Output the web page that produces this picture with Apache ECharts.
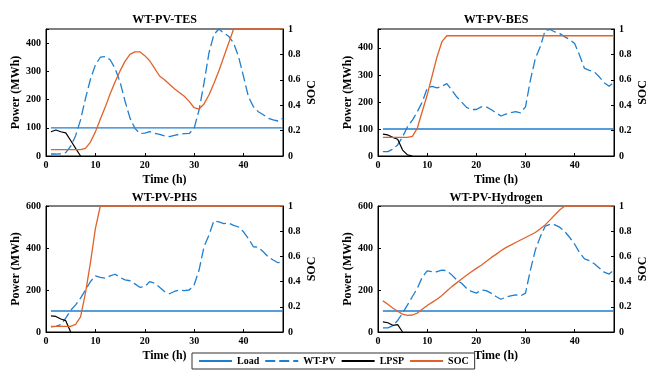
<!DOCTYPE html>
<html>
<head>
<meta charset="utf-8">
<script src="https://cdn.jsdelivr.net/npm/echarts@6/dist/echarts.min.js"></script>
<style>
html,body{margin:0;padding:0;background:#fff;}
#chart{width:650px;height:379px;}
</style>
</head>
<body>
<div id="chart"></div>
<script>
// ---------- data ----------
const hours = [1,2,3,4,5,6,7,8,9,10,11,12,13,14,15,16,17,18,19,20,21,22,23,24,25,26,27,28,29,30,31,32,33,34,35,36,37,38,39,40,41,42,43,44,45,46,47,48];
const loadValues = [100,100,100,100,100,100,100,100,100,100,100,100,100,100,100,100,100,100,100,100,100,100,100,100,100,100,100,100,100,100,100,100,100,100,100,100,100,100,100,100,100,100,100,100,100,100,100,100];

const panelTitles = ['WT-PV-TES', 'WT-PV-BES', 'WT-PV-PHS', 'WT-PV-Hydrogen'];
const seriesNames = ['Load', 'WT-PV', 'LPSP', 'SOC'];

// WT-PV-TES
const tesWtpv = [7,7,8,12,35,72,128,204,272,322,350,352,341,310,262,195,135,98,80,81,86,80,77,71,69,73,77,79,80,98,163,258,365,430,450,436,424,400,352,282,210,175,157,146,134,128,124,134];
const tesLpsp = [86,92,86,82,55,27,0];
const tesSoc = [0.05,0.05,0.05,0.05,0.05,0.05,0.05,0.06,0.11,0.19,0.29,0.385,0.49,0.585,0.67,0.745,0.80,0.82,0.82,0.79,0.75,0.69,0.63,0.60,0.565,0.53,0.50,0.47,0.43,0.38,0.37,0.41,0.48,0.57,0.67,0.78,0.89,1,1,1,1,1,1,1,1,1,1,1];

// WT-PV-BES
const besWtpv = [16,16,25,41,71,108,133,164,200,250,258,252,258,268,244,219,200,180,172,172,182,182,172,160,148,155,160,164,160,182,281,361,404,465,468,459,453,441,431,416,373,324,317,311,293,271,258,274];
const besLpsp = [81,78,69,62,22,4,0];
const besSoc = [0.147,0.147,0.147,0.147,0.147,0.147,0.155,0.22,0.35,0.48,0.63,0.78,0.90,0.947,0.947,0.947,0.947,0.947,0.947,0.947,0.947,0.947,0.947,0.947,0.947,0.947,0.947,0.947,0.947,0.947,0.947,0.947,0.947,0.947,0.947,0.947,0.947,0.947,0.947,0.947,0.947,0.947,0.947,0.947,0.947,0.947,0.947,0.947];

// WT-PV-PHS
const phsWtpv = [25,27,35,66,103,129,161,200,240,267,260,256,267,275,260,248,244,229,213,216,240,232,213,193,182,193,200,197,200,224,295,406,461,529,524,516,519,508,500,477,445,406,403,382,358,343,330,335];
const phsLpsp = [77,74,62,54,0];
const phsSoc = [0.045,0.045,0.045,0.045,0.045,0.06,0.12,0.31,0.55,0.82,1,1,1,1,1,1,1,1,1,1,1,1,1,1,1,1,1,1,1,1,1,1,1,1,1,1,1,1,1,1,1,1,1,1,1,1,1,1];

// WT-PV-Hydrogen
const h2Wtpv = [20,20,30,55,90,129,169,208,261,291,287,287,295,292,272,248,232,208,193,185,200,197,185,169,156,166,172,177,172,185,295,390,453,504,513,510,498,478,450,418,378,348,340,325,305,285,276,295];
const h2Lpsp = [48,44,32,35,0];
const h2Soc = [0.247,0.22,0.19,0.165,0.142,0.132,0.135,0.15,0.18,0.21,0.235,0.26,0.29,0.325,0.36,0.39,0.42,0.45,0.478,0.505,0.53,0.56,0.59,0.616,0.645,0.67,0.69,0.71,0.73,0.75,0.77,0.79,0.82,0.85,0.89,0.93,0.97,1,1,1,1,1,1,1,1,1,1,1];

const powerMax = [450, 470, 600, 600];
const powerStep = [100, 100, 200, 200];
const panelData = [
  [tesWtpv, tesLpsp, tesSoc],
  [besWtpv, besLpsp, besSoc],
  [phsWtpv, phsLpsp, phsSoc],
  [h2Wtpv, h2Lpsp, h2Soc]
];

// ---------- styling ----------
const FONT = '"Liberation Serif", "DejaVu Serif", serif';
const BLUE = '#1f7fcf';
const ORANGE = '#e0622a';
const grids = [
  {left: 46, top: 29, width: 237, height: 127},
  {left: 378, top: 29, width: 236, height: 127},
  {left: 46, top: 206, width: 237, height: 126},
  {left: 378, top: 206, width: 236, height: 126}
];

function pairs(xs, ys) { return ys.map((v, i) => [xs[i], v]); }

const option = {
  animation: false,
  backgroundColor: '#fff',
  textStyle: {fontFamily: FONT, color: '#000'},
  title: panelTitles.map((t, i) => ({
    text: t,
    left: grids[i].left + grids[i].width / 2,
    top: i < 2 ? 14 : 192,
    textAlign: 'center',
    padding: 0,
    textStyle: {fontFamily: FONT, fontWeight: 'bold', fontSize: 12, color: '#000'}
  })),
  legend: {
    data: seriesNames,
    left: 192,
    top: 353,
    orient: 'horizontal',
    itemWidth: 33,
    itemHeight: 12,
    itemGap: 5,
    padding: [3, 6],
    borderColor: '#333',
    borderWidth: 1,
    backgroundColor: '#fff',
    itemStyle: {opacity: 0},
    textStyle: {fontFamily: FONT, fontWeight: 'bold', fontSize: 10, color: '#000'}
  },
  grid: grids.map(g => Object.assign({show: true, borderColor: '#000', borderWidth: 1, backgroundColor: '#fff'}, g)),
  xAxis: grids.map((g, i) => ({
    type: 'value', gridIndex: i, min: 0, max: 48, interval: 10,
    name: 'Time (h)', nameLocation: 'middle', nameGap: 18,
    nameTextStyle: {fontFamily: FONT, fontWeight: 'bold', fontSize: 12, color: '#000'},
    axisLine: {show: true, onZero: false, lineStyle: {color: '#000', width: 1}},
    axisTick: {show: true, inside: true, length: 3, lineStyle: {color: '#000'}},
    axisLabel: {margin: 4, fontFamily: FONT, fontWeight: 'bold', fontSize: 10, color: '#000',
      formatter: v => (v % 10 === 0 ? String(v) : '')},
    splitLine: {show: false}
  })),
  yAxis: [],
  series: []
};

grids.forEach((g, i) => {
  option.yAxis.push({
    type: 'value', gridIndex: i, position: 'left', min: 0, max: powerMax[i], interval: powerStep[i],
    name: 'Power (MWh)', nameLocation: 'middle', nameGap: 23, nameRotate: 90,
    nameTextStyle: {fontFamily: FONT, fontWeight: 'bold', fontSize: 12, color: '#000'},
    axisLine: {show: true, lineStyle: {color: '#000', width: 1}},
    axisTick: {show: true, inside: true, length: 3, lineStyle: {color: '#000'}},
    axisLabel: {margin: 5, fontFamily: FONT, fontWeight: 'bold', fontSize: 10, color: '#000',
      formatter: v => (v % powerStep[i] === 0 ? String(v) : '')},
    splitLine: {show: false}
  });
  option.yAxis.push({
    type: 'value', gridIndex: i, position: 'right', min: 0, max: 1, interval: 0.2,
    name: 'SOC', nameLocation: 'middle', nameGap: 23, nameRotate: 90,
    nameTextStyle: {fontFamily: FONT, fontWeight: 'bold', fontSize: 12, color: '#000'},
    axisLine: {show: true, lineStyle: {color: '#000', width: 1}},
    axisTick: {show: true, inside: true, length: 3, lineStyle: {color: '#000'}},
    axisLabel: {margin: 5, fontFamily: FONT, fontWeight: 'bold', fontSize: 10, color: '#000'},
    splitLine: {show: false}
  });
  const [wtpv, lpsp, soc] = panelData[i];
  const base = {type: 'line', xAxisIndex: i, symbol: 'none', showSymbol: false, clip: false, animation: false};
  option.series.push(Object.assign({}, base, {
    name: 'Load', yAxisIndex: 2 * i, data: pairs(hours, loadValues),
    itemStyle: {color: BLUE}, lineStyle: {color: BLUE, width: 1.3}
  }));
  option.series.push(Object.assign({}, base, {
    name: 'WT-PV', yAxisIndex: 2 * i, data: pairs(hours, wtpv),
    itemStyle: {color: BLUE}, lineStyle: {color: BLUE, width: 1.3, type: [10, 4]}
  }));
  option.series.push(Object.assign({}, base, {
    name: 'LPSP', yAxisIndex: 2 * i, data: pairs(hours, lpsp),
    itemStyle: {color: '#000'}, lineStyle: {color: '#000', width: 1.2}
  }));
  option.series.push(Object.assign({}, base, {
    name: 'SOC', yAxisIndex: 2 * i + 1, data: pairs(hours, soc),
    itemStyle: {color: ORANGE}, lineStyle: {color: ORANGE, width: 1.3}
  }));
});

const chart = echarts.init(document.getElementById('chart'), null, {renderer: 'canvas'});
chart.setOption(option);
</script>
</body>
</html>
